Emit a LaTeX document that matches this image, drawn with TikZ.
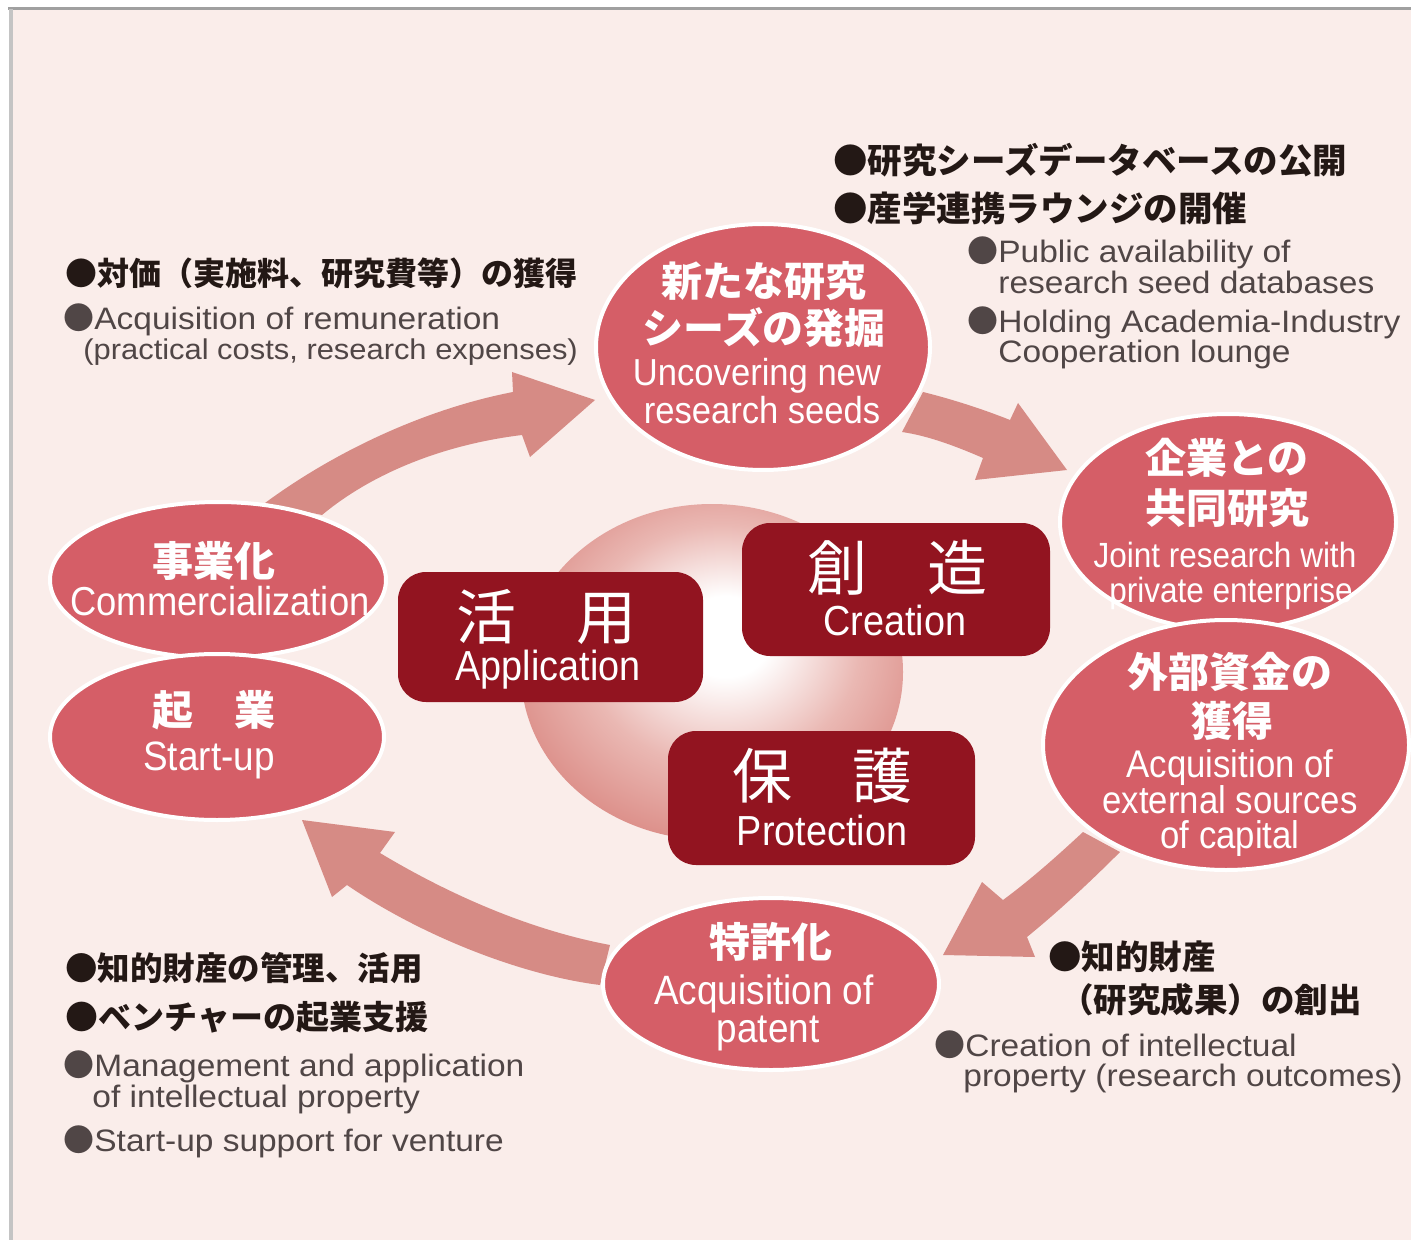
\documentclass[tikz,border=0pt]{standalone}
\usepackage{fontspec}
\setmainfont{Liberation Sans}
\newfontfamily\en{Liberation Sans}[FakeStretch=0.9]
\newfontfamily\enn{Liberation Sans}[FakeStretch=0.92]
\newfontfamily\grf{Liberation Sans}[FakeStretch=1.08]
\newfontfamily\jp{Noto Sans CJK JP}
\usetikzlibrary{shapes.geometric}
\definecolor{bgpink}{RGB}{250,237,234}
\definecolor{ellred}{RGB}{213,94,103}
\definecolor{arrpink}{RGB}{214,139,133}
\definecolor{boxred}{RGB}{146,20,32}
\definecolor{darktext}{RGB}{35,24,21}
\definecolor{graytext}{RGB}{80,70,70}
\definecolor{framegray}{RGB}{160,160,160}
\definecolor{framelight}{RGB}{196,196,196}
\definecolor{sphA}{RGB}{234,184,179}
\definecolor{sphB}{RGB}{215,128,122}
\definecolor{sphC}{RGB}{200,96,91}
\pgfdeclareradialshading{sphere}{\pgfpoint{2bp}{6bp}}{color(0bp)=(white); color(6bp)=(white); color(18bp)=(sphA); color(32bp)=(sphB); color(44bp)=(sphC); color(50bp)=(sphC)}
\newcommand\fsz[1]{\fontsize{#1}{#1}\selectfont}
\begin{document}
\begin{tikzpicture}[x=0.5pt,y=-0.5pt,
  ell/.style={ellipse, fill=ellred, draw=white, line width=2pt, inner sep=0pt},
  darkbox/.style={rectangle, rounded corners=14pt, fill=boxred, inner sep=0pt},
  arrowshape/.style={fill=arrpink},
  wt/.style={inner sep=0pt, text=white},
  wjp/.style={wt, font=\jp\bfseries\fsz{20.5}},
  dk/.style={inner sep=0pt, text=darktext, anchor=west},
  gr/.style={inner sep=0pt, text=graytext, anchor=base west, font=\grf\fsz{15.5}}]
\useasboundingbox (0,0) rectangle (1411,1240);
\fill[white] (0,0) rectangle (1411,1240);
\fill[bgpink] (13,10) rectangle (1411,1240);
\draw[framegray, line width=1.5pt] (8,8.5) -- (1411,8.5);
\draw[framelight, line width=2pt] (11,9) -- (11,1240);

% circular flow arrows
\fill[arrowshape] (265,503) .. controls (330,455) and (420,410) .. (513,392) -- (512,372) -- (595,400) -- (530,457) -- (522,435) .. controls (440,445) and (370,475) .. (322,515) -- cycle;
\fill[arrowshape] (923,392) .. controls (955,400) and (985,410) .. (1010,420) -- (1018,403) -- (1067,470) -- (975,480) -- (983,458) .. controls (960,448) and (930,436) .. (902,432) -- cycle;
\fill[arrowshape] (1083,832) .. controls (1055,858) and (1030,880) .. (1003,900) -- (982,882) -- (943,955) -- (1035,957) -- (1027,937) .. controls (1060,910) and (1090,882) .. (1120,852) -- cycle;
\fill[arrowshape] (302,820) -- (395,832) -- (380,853) .. controls (450,895) and (530,930) .. (610,945) -- (600,985) .. controls (520,975) and (420,935) .. (347,885) -- (332,897) -- cycle;

% central sphere
\node[ellipse, minimum width=191pt, minimum height=168pt, inner sep=0pt, shade, shading=sphere] (core) at (712,672) {};

% ellipses
\node[ell, minimum width=167pt, minimum height=123pt] (seeds) at (763,347) {};
\node[ell, minimum width=168pt, minimum height=108pt] (joint) at (1228,522) {};
\node[ell, minimum width=183pt, minimum height=125pt] (funds) at (1226,745) {};
\node[ell, minimum width=168pt, minimum height=86pt] (patent) at (771,984) {};
\node[ell, minimum width=168pt, minimum height=78pt] (comm) at (218,580) {};
\node[ell, minimum width=167pt, minimum height=83pt] (startup) at (217,737) {};

% dark boxes
\node[darkbox, minimum width=152.5pt, minimum height=65pt] (app) at (550.5,637) {};
\node[darkbox, minimum width=154pt, minimum height=66.5pt] (cre) at (896,589.5) {};
\node[darkbox, minimum width=153.5pt, minimum height=67pt] (pro) at (821.5,798) {};

% box texts
\node[wt, font=\jp\fsz{30}] (appj) at (546,617) {活　用};
\node[wt, anchor=base, font=\en\fsz{21}] (appe) at (548,680) {Application};
\node[wt, font=\jp\fsz{30}] (crej) at (897,568) {創　造};
\node[wt, anchor=base, font=\en\fsz{21}] (cree) at (895,635) {Creation};
\node[wt, font=\jp\fsz{30}] (proj) at (822,776) {保　護};
\node[wt, anchor=base, font=\en\fsz{21}] (proe) at (822,845) {Protection};

% ellipse texts
\node[wjp] (s1) at (764,281) {新たな研究};
\node[wjp] (s2) at (764,328) {シーズの発掘};
\node[wt, anchor=base, font=\enn\fsz{18.8}] (s3) at (757,386) {Uncovering new};
\node[wt, anchor=base, font=\enn\fsz{18.8}] (s4) at (762,423) {research seeds};

\node[wjp] (j1) at (1227,458) {企業との};
\node[wjp] (j2) at (1227,508) {共同研究};
\node[wt, anchor=base, font=\en\fsz{17.5}] (j3) at (1225,567) {Joint research with};
\node[wt, anchor=base, font=\en\fsz{17.5}] (j4) at (1231,602) {private enterprise};

\node[wjp] (f1) at (1230,672) {外部資金の};
\node[wjp] (f2) at (1232,721) {獲得};
\node[wt, anchor=base, font=\en\fsz{19.3}] (f3) at (1230,777) {Acquisition of};
\node[wt, anchor=base, font=\en\fsz{19.3}] (f4) at (1230,813) {external sources};
\node[wt, anchor=base, font=\en\fsz{19.3}] (f5) at (1230,848) {of capital};

\node[wjp] (p1) at (771,942) {特許化};
\node[wt, anchor=base, font=\en\fsz{20.5}] (p2) at (764,1004) {Acquisition of};
\node[wt, anchor=base, font=\en\fsz{20.5}] (p3) at (768,1042) {patent};

\node[wjp] (c1) at (214,561) {事業化};
\node[wt, anchor=base, font=\en\fsz{20.2}] (c2) at (220,615) {Commercialization};

\node[wjp] (u1) at (214,710) {起　業};
\node[wt, anchor=base, font=\en\fsz{20.5}] (u2) at (209,770) {Start-up};

% annotations
\node[dk, font=\jp\bfseries\fsz{17.25}] (n1) at (833,160) {●研究シーズデータベースの公開};
\node[dk, font=\jp\bfseries\fsz{17.25}] (n2) at (833,208) {●産学連携ラウンジの開催};
\node[gr] (g1) at (967,263) {{\jp ●}Public availability of};
\node[gr] (g2) at (998,294) {research seed databases};
\node[gr] (g3) at (967,333) {{\jp ●}Holding Academia-Industry};
\node[gr] (g4) at (998,363) {Cooperation lounge};

\node[dk, font=\jp\bfseries\fsz{16}] (n3) at (65,273) {●対価（実施料、研究費等）の獲得};
\node[gr] (g5) at (63,330) {{\jp ●}Acquisition of remuneration};
\node[gr, font=\grf\fsz{14.3}] (g6) at (83,360) {(practical costs, research expenses)};

\node[dk, font=\jp\bfseries\fsz{16.25}] (n4) at (65,968) {●知的財産の管理、活用};
\node[dk, font=\jp\bfseries\fsz{16.5}] (n5) at (65,1017) {●ベンチャーの起業支援};
\node[gr] (g7) at (63,1076) {{\jp ●}Management and application};
\node[gr] (g8) at (92,1107) {of intellectual property};
\node[gr] (g9) at (63,1151) {{\jp ●}Start-up support for venture};

\node[dk, font=\jp\bfseries\fsz{16.75}] (n6) at (1048,957) {●知的財産};
\node[dk, font=\jp\bfseries\fsz{16.75}] (n7) at (1060,1000) {（研究成果）の創出};
\node[gr] (g10) at (934,1056) {{\jp ●}Creation of intellectual};
\node[gr] (g11) at (963,1086) {property (research outcomes)};
\end{tikzpicture}
\end{document}
